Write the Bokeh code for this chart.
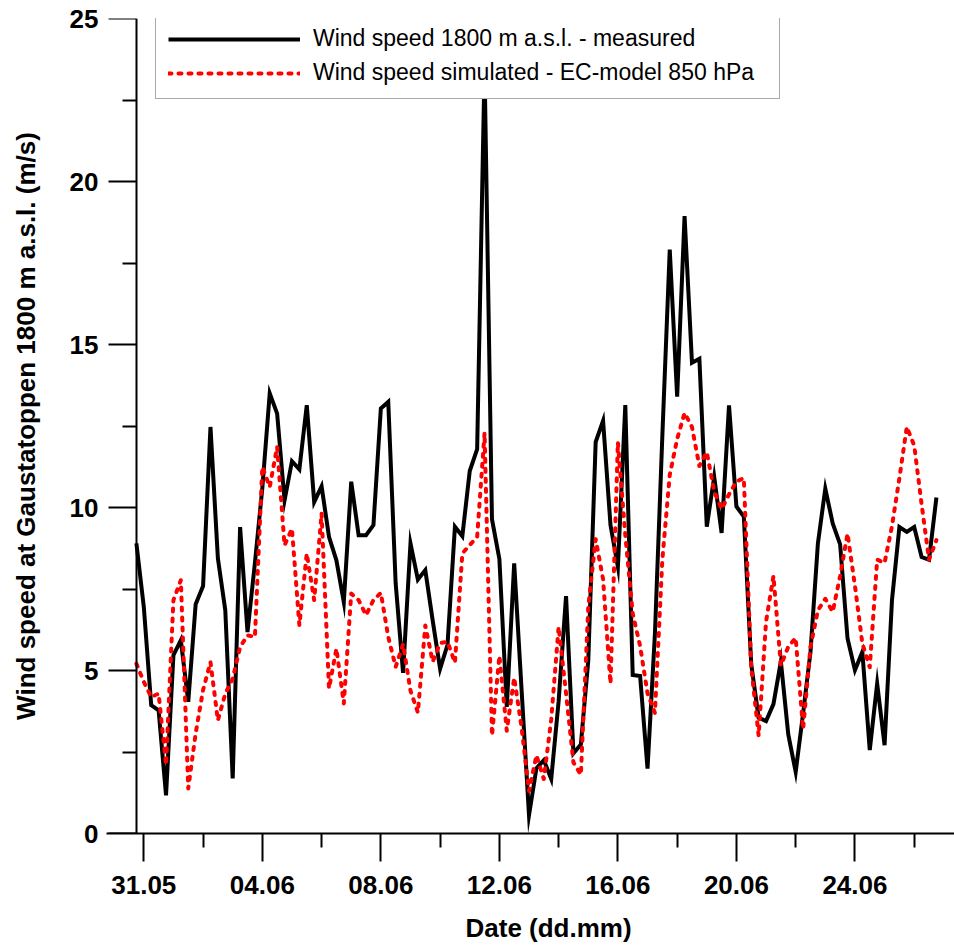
import pandas as pd
from bokeh.plotting import figure
from bokeh.models import (ColumnDataSource, FixedTicker, Legend, LegendItem,
                          DatetimeTickFormatter, Range1d, LinearAxis)
from bokeh.embed import file_html
from bokeh.resources import INLINE

# ---------------- data ----------------
year = 2008
start_time = "2008-05-30 18:00"   # first 6-hourly observation
step = "6h"

measured = [8.90, 6.95, 3.94, 3.78, 1.17, 5.47, 5.93, 4.04, 7.03, 7.59,
            12.47, 8.44, 6.85, 1.69, 9.40, 6.18, 8.3, 10.6, 13.50, 12.88,
            10.22, 11.42, 11.17, 13.14, 10.17, 10.65, 9.10, 8.38, 7.10, 10.79,
            9.15, 9.15, 9.46, 13.04, 13.24, 7.67, 4.93, 8.90, 7.79, 8.08,
            6.53, 5.05, 5.79, 9.41, 9.12, 11.12, 11.79, 23.5, 9.64, 8.42,
            3.88, 8.29, 4.4, 0.56, 2.0, 2.25, 1.67, 4.06, 7.28, 2.46,
            2.73, 5.3, 12.01, 12.66, 9.46, 8.18, 13.14, 4.86, 4.83, 1.99,
            6.13, 12.2, 17.91, 13.40, 18.94, 14.44, 14.56, 9.41, 10.94, 9.22,
            13.13, 10.03, 9.72, 5.19, 3.55, 3.45, 3.97, 5.28, 3.04, 1.89,
            3.68, 5.57, 8.90, 10.58, 9.51, 8.87, 5.98, 5.01, 5.57, 2.56,
            4.60, 2.71, 7.16, 9.40, 9.25, 9.40, 8.48, 8.40, 10.31]

simulated = [5.21, 4.65, 4.19, 4.29, 2.1, 7.16, 7.77, 1.38, 3.07, 4.40,
             5.26, 3.47, 4.29, 4.75, 5.72, 6.08, 6.03, 11.25, 10.63, 11.86,
             8.84, 9.35, 6.39, 8.59, 7.16, 9.82, 4.45, 5.67, 3.99, 7.36,
             7.16, 6.70, 7.16, 7.38, 6.03, 5.11, 5.81, 4.38, 3.71, 6.38,
             5.27, 5.84, 5.88, 5.24, 8.59, 8.85, 9.1, 12.29, 3.0, 5.45,
             3.15, 4.78, 3.25, 1.3, 2.4, 1.67, 3.5, 6.34, 4.3, 2.18,
             1.8, 6.95, 9.03, 7.8, 4.6, 12.0, 9.15, 6.75, 5.75, 4.3,
             3.7, 8.4, 11.0, 12.1, 12.9, 12.47, 11.27, 11.7, 10.5, 9.95,
             10.4, 10.8, 10.9, 5.1, 3.0, 6.5, 7.9, 5.15, 5.73, 6.0,
             3.2, 5.72, 6.85, 7.2, 6.8, 7.9, 9.2, 7.6, 5.83, 5.1,
             8.4, 8.3, 9.43, 10.9, 12.47, 11.9, 10.1, 8.4, 9.0]

x_major_labels = ["31.05", "04.06", "08.06", "12.06", "16.06", "20.06", "24.06"]
x_minor_labels = ["02.06", "06.06", "10.06", "14.06", "18.06", "22.06", "26.06"]
y_major = [0, 5, 10, 15, 20, 25]
y_minor = [2.5, 7.5, 12.5, 17.5, 22.5]

series_names = ["Wind speed 1800 m a.s.l. - measured",
                "Wind speed simulated - EC-model 850 hPa"]
x_title = "Date (dd.mm)"
y_title = "Wind speed at Gaustatoppen 1800 m a.s.l. (m/s)"

# ---------------- helpers ----------------
DAY = 86400000.0


def ms(ddmm):
    d, m = ddmm.split(".")
    return pd.Timestamp(year=year, month=int(m), day=int(d)).value / 1e6


times = pd.date_range(start_time, periods=len(measured), freq=step)
src = ColumnDataSource(dict(t=times, measured=measured, simulated=simulated))

ref = ms(x_major_labels[0])
x_start = ref - 1.259 * DAY
x_end = ref + 27.36 * DAY

FONT = "Liberation Sans"
AX_FS = "26px"

p = figure(width=954, height=945, output_backend="svg", toolbar_location=None,
           x_axis_type="datetime",
           x_range=Range1d(x_start, x_end), y_range=Range1d(0, 25),
           min_border_left=106, min_border_right=0, min_border_top=18,
           min_border_bottom=112)
p.outline_line_color = None
p.xgrid.grid_line_color = None
p.ygrid.grid_line_color = None
p.background_fill_color = "white"
p.border_fill_color = "white"

r1 = p.line("t", "measured", source=src, line_color="black", line_width=4,
            line_join="miter")
r2 = p.line("t", "simulated", source=src, line_color="#ff0000", line_width=4,
            line_dash="3 7", line_cap="round", line_join="round")

# ---- x axis ----
xa = p.xaxis[0]
xa.ticker = FixedTicker(ticks=[ms(s) for s in x_major_labels],
                        minor_ticks=[ms(s) for s in x_minor_labels])
xa.formatter = DatetimeTickFormatter(days="%d.%m", months="%d.%m", hours="%d.%m",
                                     years="%d.%m")
# leading no-break spaces shift the centred title onto the data span
xa.axis_label = "\u00a0" * 5 + x_title
xa.axis_label_standoff = 16

y_ticker = FixedTicker(ticks=y_major, minor_ticks=y_minor)

# ---- y axis line + ticks, placed at the first observation time ----
ya_line = LinearAxis(ticker=y_ticker, fixed_location=times[0].value / 1e6)
ya_line.major_label_text_color = None

# ---- y tick labels + title on the normal left axis ----
ya = p.yaxis[0]
ya.ticker = y_ticker
ya.axis_label = y_title
ya.axis_line_color = None
ya.major_tick_line_color = None
ya.minor_tick_line_color = None
ya.major_tick_out = 0
ya.major_tick_in = 0
ya.minor_tick_out = 0
ya.minor_tick_in = 0
ya.major_label_standoff = 8
ya.axis_label_standoff = 26

for ax in (xa, ya_line):
    ax.axis_line_width = 2
    ax.axis_line_color = "black"
    ax.major_tick_line_width = 2
    ax.minor_tick_line_width = 2
    ax.major_tick_line_color = "black"
    ax.minor_tick_line_color = "black"
    ax.major_tick_out = 28
    ax.major_tick_in = 0
    ax.minor_tick_out = 14
    ax.minor_tick_in = 0

for ax in (xa, ya):
    ax.major_label_text_font = FONT
    ax.major_label_text_font_style = "bold"
    ax.major_label_text_font_size = AX_FS
    ax.major_label_text_color = "black"
    ax.axis_label_text_font = FONT
    ax.axis_label_text_font_style = "bold"
    ax.axis_label_text_font_size = AX_FS
    ax.axis_label_text_color = "black"

xa.major_label_standoff = 14
p.add_layout(ya_line, "left")

legend = Legend(items=[LegendItem(label=series_names[0], renderers=[r1]),
                       LegendItem(label=series_names[1], renderers=[r2])],
                location=(49, 734))
legend.label_text_font = FONT
legend.label_text_font_size = "23px"
legend.label_text_color = "black"
legend.glyph_width = 132
legend.glyph_height = 24
legend.label_height = 24
legend.label_width = 454
legend.label_standoff = 13
legend.padding = 12
legend.spacing = 7
legend.margin = 0
legend.border_line_color = "#555555"
legend.border_line_width = 1
legend.background_fill_color = "white"
legend.background_fill_alpha = 1.0
p.add_layout(legend)

open("out.html", "w").write(file_html(p, INLINE))
